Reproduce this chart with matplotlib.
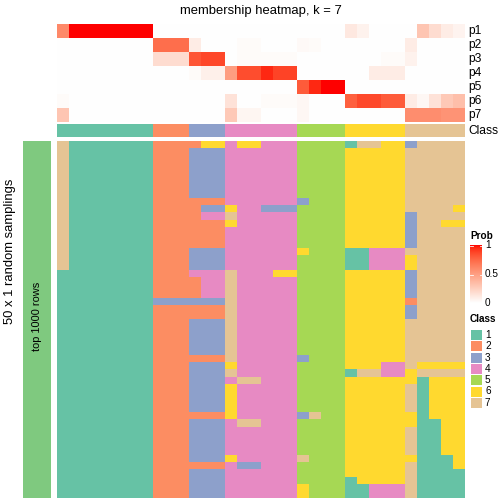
import numpy as np
import matplotlib
matplotlib.use('Agg')
import matplotlib.pyplot as plt
from matplotlib.colors import ListedColormap
from matplotlib.patches import Rectangle

plt.rcParams['font.family'] = ['Liberation Sans', 'DejaVu Sans']

# class colours and labels
class_colors = ['#66C2A5', '#FC8D62', '#8DA0CB', '#E78AC3', '#A6D854', '#FFD92F', '#E5C494']
class_labels = ['1', '2', '3', '4', '5', '6', '7']

# consensus class of each column
col_class = [1, 1, 1, 1, 1, 1, 1, 1, 2, 2, 2, 3, 3, 3, 4, 4, 4, 4, 4, 4,
             5, 5, 5, 5, 6, 6, 6, 6, 6, 7, 7, 7, 7, 7]

# membership probabilities
prob_names = ['p1', 'p2', 'p3', 'p4', 'p5', 'p6', 'p7']
p1 = [0.6, 1, 1, 1, 1, 1, 1, 1, 0, 0, 0, 0, 0, 0, 0, 0, 0, 0, 0, 0,
      0, 0, 0, 0, 0.12, 0.07, 0, 0, 0, 0, 0.3, 0.18, 0.1, 0.06]
p2 = [0, 0, 0, 0, 0, 0, 0, 0, 0.72, 0.72, 0.72, 0.1, 0, 0, 0, 0.02, 0.02, 0, 0, 0,
      0.03, 0.02, 0, 0, 0, 0, 0, 0, 0, 0.1, 0, 0, 0, 0]
p3 = [0, 0, 0, 0, 0, 0, 0, 0, 0.18, 0.18, 0.18, 0.82, 0.87, 0.87, 0, 0.02, 0.02, 0.02, 0.02, 0.02,
      0, 0, 0, 0, 0, 0, 0, 0.02, 0.02, 0.07, 0, 0, 0, 0]
p4 = [0, 0, 0, 0, 0, 0, 0, 0, 0, 0, 0, 0.02, 0.08, 0.08, 0.5, 0.85, 0.85, 0.95, 0.88, 0.88,
      0, 0, 0, 0, 0, 0, 0.1, 0.1, 0.1, 0, 0, 0, 0, 0]
p5 = [0, 0, 0, 0, 0, 0, 0, 0, 0, 0, 0, 0, 0, 0, 0, 0, 0, 0, 0, 0,
      0.8, 0.95, 1, 1, 0, 0, 0, 0, 0, 0, 0, 0, 0, 0]
p6 = [0.02, 0, 0, 0, 0, 0, 0, 0, 0, 0, 0, 0, 0, 0, 0.15, 0, 0, 0.02, 0.02, 0.02,
      0.04, 0, 0, 0, 0.78, 0.86, 0.86, 0.8, 0.8, 0.1, 0.04, 0.15, 0.28, 0.33]
p7 = [0.3, 0, 0, 0, 0, 0, 0, 0, 0, 0, 0, 0, 0, 0, 0.28, 0.05, 0.05, 0, 0, 0,
      0.04, 0, 0, 0, 0, 0, 0, 0, 0, 0.58, 0.58, 0.58, 0.55, 0.55]

# class assignment of each sampling (rows) for each column
samplings = [
    "7 1111111 222 266 466444 5555 17766 37777",
    "7 1111111 222 333 444444 5555 66666 77777",
    "7 1111111 222 333 444444 5555 66666 77777",
    "7 1111111 222 333 444444 5555 66666 77777",
    "7 1111111 222 333 444444 5555 66666 77777",
    "7 1111111 222 333 444444 5555 66666 77777",
    "7 1111111 222 333 444444 5555 66666 77777",
    "7 1111111 222 333 444444 5555 66666 77777",
    "7 1111111 222 222 444444 3555 66666 77777",
    "7 1111111 222 233 644333 5555 66666 77776",
    "7 1111111 222 244 744444 5555 66666 37777",
    "7 1111111 222 222 644444 5555 66666 37766",
    "7 1111111 222 222 444444 5555 66666 37777",
    "7 1111111 222 222 444444 5555 66666 37777",
    "7 1111111 222 222 444444 5555 66666 37777",
    "7 1111111 222 333 444444 6555 11444 77777",
    "7 1111111 222 333 444444 5555 11444 67777",
    "7 1111111 222 333 444444 5555 11444 67777",
    "1 1111111 222 444 744466 5555 66666 37777",
    "1 1111111 222 244 744444 5555 66666 37777",
    "1 1111111 222 244 744444 5555 66666 37777",
    "1 1111111 222 244 744444 5555 66666 37777",
    "1 1111111 333 333 744444 5555 66666 27777",
    "1 1111111 222 222 744444 5555 66666 37777",
    "1 1111111 222 222 744444 5555 66666 37777",
    "1 1111111 222 333 744444 5555 66666 77777",
    "1 1111111 222 333 744444 5555 66666 77777",
    "1 1111111 222 333 744444 5555 66666 77777",
    "1 1111111 222 333 744444 5555 66666 77777",
    "1 1111111 222 333 744444 5555 66666 77777",
    "1 1111111 222 222 744444 3555 66666 77777",
    "1 1111111 222 333 644444 5555 66644 76666",
    "1 1111111 222 333 744444 5555 17744 67777",
    "1 1111111 222 333 477444 5555 66666 61666",
    "1 1111111 222 333 644444 5555 66666 71666",
    "1 1111111 222 333 644444 5555 66666 71666",
    "1 1111111 222 333 644444 5555 66666 71666",
    "1 1111111 222 333 644444 5555 66666 71666",
    "1 1111111 222 222 644444 3755 66666 61666",
    "1 1111111 222 333 477444 5555 66666 61166",
    "1 1111111 222 333 444444 5555 66666 71166",
    "1 1111111 222 333 444444 5555 66666 71166",
    "1 1111111 222 333 444444 5555 66666 71166",
    "1 1111111 222 333 444444 5555 66666 71166",
    "1 1111111 222 333 644444 7555 66666 61116",
    "1 1111111 222 222 433444 5555 66666 71116",
    "1 1111111 222 333 444444 5555 66666 71111",
    "1 1111111 222 333 444444 5555 16666 71111",
    "1 1111111 222 333 444444 6555 11444 71111",
    "1 1111111 222 333 444444 6555 11444 71111",
]


def white_red_lab(n=256):
    # white -> red interpolated in CIE LAB, like colorRamp2
    lab0 = np.array([100.0, 0.0, 0.0])
    lab1 = np.array([53.2408, 80.0925, 67.2032])
    t = np.linspace(0, 1, n)[:, None]
    L, a, b = (lab0 + (lab1 - lab0) * t).T
    fy = (L + 16) / 116
    fx = fy + a / 500
    fz = fy - b / 200

    def finv(f):
        return np.where(f > 6 / 29, f ** 3, 3 * (6 / 29) ** 2 * (f - 4 / 29))

    X = 0.95047 * finv(fx)
    Y = finv(fy)
    Z = 1.08883 * finv(fz)
    M = np.array([[3.2406, -1.5372, -0.4986],
                  [-0.9689, 1.8758, 0.0415],
                  [0.0557, -0.2040, 1.0570]])
    rgb = np.clip(M @ np.vstack([X, Y, Z]), 0, 1).T
    rgb = np.where(rgb <= 0.0031308, 12.92 * rgb, 1.055 * rgb ** (1 / 2.4) - 0.055)
    return ListedColormap(np.clip(rgb, 0, 1))


prob_cmap = white_red_lab()
class_cmap = ListedColormap(class_colors)

W = H = 504
fig = plt.figure(figsize=(7, 7), dpi=72)


def px_axes(x0, y0, x1, y1):
    ax = fig.add_axes([x0 / W, 1 - y1 / H, (x1 - x0) / W, (y1 - y0) / H])
    ax.set_axis_off()
    return ax


# membership heatmap
ax = px_axes(57, 24, 465, 122)
ax.imshow(np.array([p1, p2, p3, p4, p5, p6, p7]), cmap=prob_cmap, vmin=0, vmax=1,
          aspect='auto', interpolation='nearest')

# class annotation
ax = px_axes(57, 124, 465, 137)
ax.imshow(np.array([col_class]) - 1, cmap=class_cmap, vmin=-0.5, vmax=6.5,
          aspect='auto', interpolation='nearest')

# samplings heatmap
mat = np.array([[int(c) for c in s.replace(' ', '')] for s in samplings])
ax = px_axes(57, 141, 465, 498)
ax.imshow(mat - 1, cmap=class_cmap, vmin=-0.5, vmax=6.5,
          aspect='auto', interpolation='nearest')

# overlay for labels and legends
ov = px_axes(0, 0, W, H)
ov.patch.set_alpha(0)

ov.add_patch(Rectangle((23, 141), 28, 357, color='#7FC97F', lw=0))
ov.text(37, 316, 'top 1000 rows', rotation=90, ha='center', va='center', fontsize=11)
ov.text(10, 251, '50 x 1 random samplings', rotation=90, ha='center', va='center', fontsize=13)

ov.text(261, 11, 'membership heatmap, k = 7', ha='center', va='center', fontsize=13)
for i, name in enumerate(prob_names):
    ov.text(468, 24 + 14 * i + 7, name, ha='left', va='center', fontsize=12)
ov.text(468, 130.5, 'Class', ha='left', va='center', fontsize=12)

# Prob legend
ov.text(470, 236, 'Prob', ha='left', va='center', fontsize=10, fontweight='bold')
ov.imshow(np.linspace(1, 0, 200)[:, None], cmap=prob_cmap, vmin=0, vmax=1,
          extent=[470, 482, 303, 245], aspect='auto')
for v, lab in zip([1, 0.5, 0], ['1', '0.5', '0']):
    yy = 303 - 58 * v
    if v > 0:
        ov.plot([470, 472.5], [yy + 1, yy + 1], color='white', lw=0.8)
        ov.plot([479.5, 482], [yy + 1, yy + 1], color='white', lw=0.8)
    ov.text(485, yy, lab, ha='left', va='center', fontsize=10)

# Class legend
ov.text(470, 319, 'Class', ha='left', va='center', fontsize=10, fontweight='bold')
for i, (c, lab) in enumerate(zip(class_colors, class_labels)):
    cy = 335 + 11.3 * i
    ov.add_patch(Rectangle((470.5, cy - 5), 11, 10, color=c, lw=0))
    ov.text(485, cy, lab, ha='left', va='center', fontsize=10)

ov.set_xlim(0, W)
ov.set_ylim(H, 0)

fig.savefig('out.png', dpi=72)
